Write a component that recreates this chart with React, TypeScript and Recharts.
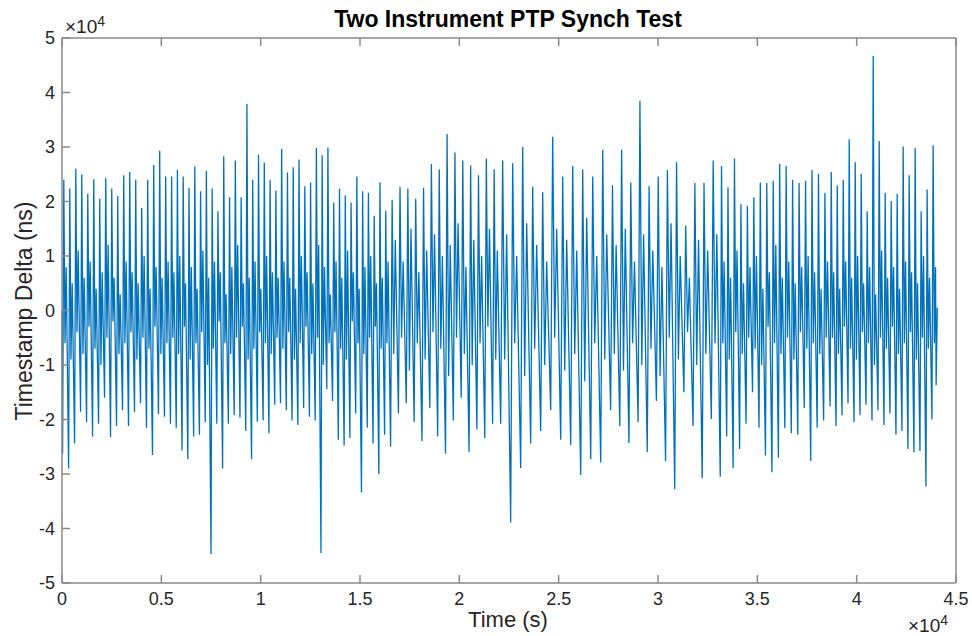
import React from 'react';
import { LineChart, Line, XAxis, YAxis } from 'recharts';

if (typeof document !== 'undefined') {
  document.documentElement.style.overflow = 'hidden';
  document.body.style.overflow = 'hidden';
  document.body.style.margin = '0';
}

// Time-span edges (s) of the eight stretches the cycles were read from
const regionEdges = [0, 5430, 10970, 16500, 22030, 27570, 33100, 38630, 44060];

// Per cycle: trough, peak, inner dip, inner bump (ns), stretch by stretch
const troughs1 = [-26300, -29000, -24400, -18600, -20500, -23100, -20800, -16000, -23200, -21200, -18300, -21200, -18600, -17000, -21500, -26500, -19000, -19500];
const peaks1 = [24000, 22400, 26000, 25000, 21400, 24100, 20500, 24300, 22400, 21000, 24800, 25400, 24000, 18800, 24000, 26700, 29300, 24600];
const dips1 = [-6000, -9000, -4000, -8000, -3000, -7000, -10000, -5000, -2000, -8000, -6000, -4000, -9000, -5000, -7000, -3000, -8000, -6000];
const bumps1 = [8000, 5000, 11000, 6000, 9000, 4000, 7000, 12000, 6000, 3000, 9000, 7000, 5000, 10000, 4000, 8000, 6000, 9000];

const troughs2 = [-20800, -21500, -25700, -27300, -23100, -22800, -20500, -44700, -20800, -29000, -20800, -19200, -19700, -22100, -27300, -20400, -20200, -22500, -17300];
const peaks2 = [24600, 25800, 24600, 22500, 26400, 21900, 25600, 22400, 18200, 28300, 20800, 27500, 20800, 37900, 24000, 28600, 27100, 24000, 22000];
const dips2 = [-5000, -8000, -3000, -9000, -6000, -4000, -10000, -7000, -2000, -6000, -8000, -5000, -3000, -9000, -7000, -4000, -6000, -8000, -5000];
const bumps2 = [7000, 10000, 5000, 8000, 4000, 11000, 6000, 9000, 7000, 3000, 8000, 12000, 5000, 6000, 9000, 4000, 10000, 7000, 6000];

const troughs3 = [-17000, -18300, -20200, -21000, -17900, -19500, -20200, -44500, -14400, -16600, -23700, -24800, -23400, -18900, -33400, -21500, -24400, -30000, -22800];
const peaks3 = [29700, 25300, 26300, 27700, 22800, 23500, 29800, 28500, 29900, 19800, 22400, 21100, 19800, 24600, 21900, 21600, 17400, 23500, 18300];
const dips3 = [-7000, -4000, -9000, -6000, -3000, -8000, -5000, -10000, -6000, -4000, -7000, -9000, -2000, -6000, -8000, -5000, -3000, -7000, -6000];
const bumps3 = [9000, 6000, 4000, 10000, 7000, 5000, 12000, 8000, 3000, 9000, 6000, 11000, 7000, 4000, 8000, 10000, 5000, 6000, 9000];

const troughs4 = [-25000, -18900, -17000, -20500, -24000, -17900, -23100, -26300, -20200, -16000, -26000, -21800, -23400, -20800];
const peaks4 = [20300, 22700, 22400, 20500, 22500, 26900, 25900, 32400, 29000, 27500, 26600, 24800, 27900, 25900];
const dips4 = [-8000, -5000, -11000, -6000, -9000, -4000, -7000, -12000, -5000, -8000, -10000, -6000, -3000, -9000];
const bumps4 = [13000, 9000, 15000, 7000, 11000, 14000, 10000, 12000, 16000, 8000, 13000, 10000, 15000, 11000];

const troughs5 = [-20800, -38900, -28900, -24400, -22100, -18300, -23700, -24700, -30200, -27300, -27900];
const peaks5 = [27500, 27000, 30000, 22700, 21700, 31900, 24600, 26500, 25900, 24600, 29500];
const dips5 = [-9000, -6000, -12000, -7000, -10000, -5000, -11000, -8000, -13000, -6000, -9000];
const bumps5 = [14000, 10000, 16000, 12000, 9000, 15000, 13000, 11000, 17000, 10000, 14000];

const troughs6 = [-18300, -21200, -24300, -20500, -26000, -16600, -27600, -32800, -15000, -21200, -30800, -19900];
const peaks6 = [23000, 29500, 23500, 38500, 22800, 24600, 25800, 27200, 15600, 23400, 23400, 27500];
const dips6 = [-8000, -11000, -6000, -10000, -7000, -12000, -5000, -9000, -4000, -10000, -8000, -6000];
const bumps6 = [12000, 15000, 9000, 14000, 11000, 8000, 16000, 10000, 6000, 13000, 11000, 14000];

const troughs7 = [-30500, -23100, -28900, -25400, -20800, -15000, -21500, -26600, -29700, -27000, -21600, -22500, -22800, -17900, -27600, -21500, -20200];
const peaks7 = [26500, 22600, 27900, 19500, 19200, 20800, 23500, 23400, 23800, 26900, 26500, 24000, 23400, 23800, 25800, 25100, 21600];
const dips7 = [-6000, -9000, -4000, -8000, -5000, -7000, -10000, -3000, -6000, -8000, -5000, -9000, -4000, -7000, -6000, -8000, -5000];
const bumps7 = [9000, 6000, 11000, 5000, 8000, 10000, 4000, 7000, 12000, 6000, 9000, 5000, 8000, 10000, 7000, 4000, 9000];

const troughs8 = [-17600, -21200, -19200, -17000, -20500, -19200, -17300, -20200, -18300, -21000, -18900, -22800, -22100, -25400, -26000, -25800, -32300, -20000];
const peaks8 = [25400, 23000, 24000, 31400, 27200, 25100, 18200, 46700, 31100, 21600, 20100, 21400, 30100, 24800, 29800, 18200, 22200, 30300];
const dips8 = [-5000, -8000, -3000, -7000, -9000, -4000, -6000, -10000, -5000, -7000, -3000, -8000, -6000, -4000, -9000, -5000, -7000, -6000];
const bumps8 = [7000, 4000, 9000, 6000, 10000, 5000, 8000, 3000, 11000, 6000, 8000, 4000, 9000, 7000, 5000, 10000, 6000, 8000];

const startPoint = { t: 0, v: 0 };
const tailTimes = [44000, 44060];
const tailValues = [-13700, 500];

const xTicks = [0, 5000, 10000, 15000, 20000, 25000, 30000, 35000, 40000, 45000];
const yTicks = [-50000, -40000, -30000, -20000, -10000, 0, 10000, 20000, 30000, 40000, 50000];

const troughSets = [troughs1, troughs2, troughs3, troughs4, troughs5, troughs6, troughs7, troughs8];
const peakSets = [peaks1, peaks2, peaks3, peaks4, peaks5, peaks6, peaks7, peaks8];
const dipSets = [dips1, dips2, dips3, dips4, dips5, dips6, dips7, dips8];
const bumpSets = [bumps1, bumps2, bumps3, bumps4, bumps5, bumps6, bumps7, bumps8];
const phase = [0.1, 0.3, 0.5, 0.7];

const data: { t: number; v: number }[] = [startPoint];
troughSets.forEach((tr, r) => {
  const dt = (regionEdges[r + 1] - regionEdges[r]) / tr.length;
  tr.forEach((val, i) => {
    const base = regionEdges[r] + i * dt;
    const vals = [val, peakSets[r][i], dipSets[r][i], bumpSets[r][i]];
    vals.forEach((v, k) => data.push({ t: base + phase[k] * dt, v }));
  });
});
tailTimes.forEach((t, i) => data.push({ t, v: tailValues[i] }));

const FONT = '"Liberation Sans", Arial, Helvetica, sans-serif';
const AXIS = '#8a8a8a';
const TXT = '#262626';
const fmt = (v: number) => String(Math.round(v / 1000) / 10);

export default function App() {
  const W = 964;
  const H = 620;
  return (
    <div style={{ position: 'relative', width: 972, height: 636, overflow: 'hidden', background: '#fff', fontFamily: FONT }}>
      <div style={{ position: 'absolute', left: 8, top: 8, width: W, height: H }}>
        <LineChart width={W} height={H} data={data} margin={{ top: 29, right: 15, left: 14, bottom: 14 }}>
          <XAxis
            xAxisId="b"
            dataKey="t"
            type="number"
            domain={[0, 45000]}
            ticks={xTicks}
            tickFormatter={fmt}
            height={31}
            tickSize={-8}
            tickMargin={17}
            stroke={AXIS}
            strokeWidth={1.5}
            tick={{ fill: TXT, fontSize: 18, fontFamily: FONT }}
            interval={0}
          />
          <XAxis
            xAxisId="t"
            dataKey="t"
            type="number"
            orientation="top"
            domain={[0, 45000]}
            ticks={xTicks}
            tickFormatter={() => ''}
            height={1}
            tickSize={-8}
            stroke={AXIS}
            strokeWidth={1.5}
            interval={0}
          />
          <YAxis
            yAxisId="l"
            type="number"
            domain={[-50000, 50000]}
            ticks={yTicks}
            tickFormatter={fmt}
            width={40}
            tickSize={-8}
            tickMargin={15}
            stroke={AXIS}
            strokeWidth={1.5}
            tick={{ fill: TXT, fontSize: 18, fontFamily: FONT }}
            interval={0}
          />
          <YAxis
            yAxisId="r"
            type="number"
            orientation="right"
            domain={[-50000, 50000]}
            ticks={yTicks}
            tickFormatter={() => ''}
            width={1}
            tickSize={-8}
            stroke={AXIS}
            strokeWidth={1.5}
            interval={0}
          />
          <Line
            xAxisId="b"
            yAxisId="l"
            dataKey="v"
            type="linear"
            stroke="#0072BD"
            strokeWidth={1.3}
            dot={false}
            isAnimationActive={false}
          />
        </LineChart>
      </div>
      <svg
        width={972}
        height={636}
        style={{ position: 'absolute', left: 0, top: 0, pointerEvents: 'none' }}
      >
        <g transform="translate(8, 8)">
          <text x={500} y={19} textAnchor="middle" fontSize={23} fontWeight="bold" fill="#000" fontFamily={FONT}>
            Two Instrument PTP Synch Test
          </text>
          <text x={57} y={25} fontSize={19} fill={TXT} fontFamily={FONT}>
            ×10<tspan dy={-7} fontSize={14}>4</tspan>
          </text>
          <text x={900} y={624} fontSize={19} fill={TXT} fontFamily={FONT}>
            ×10<tspan dy={-7} fontSize={14}>4</tspan>
          </text>
          <text
            x={24}
            y={303}
            textAnchor="middle"
            fontSize={23}
            fill={TXT}
            fontFamily={FONT}
            transform="rotate(-90, 24, 303)"
          >
            Timestamp Delta (ns)
          </text>
          <text x={500} y={619} textAnchor="middle" fontSize={22} fill={TXT} fontFamily={FONT}>
            Time (s)
          </text>
        </g>
      </svg>
    </div>
  );
}
